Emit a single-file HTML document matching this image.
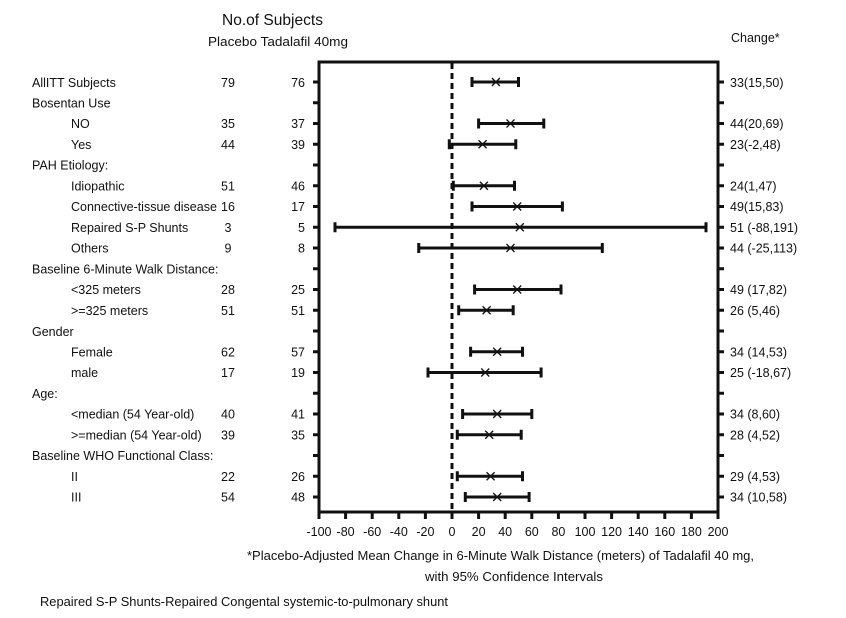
<!DOCTYPE html>
<html><head><meta charset="utf-8"><style>
html,body{margin:0;padding:0;background:#fff;}
svg{display:block;}
text{font-family:"Liberation Sans",sans-serif;font-size:12.5px;fill:#111;}
</style></head><body>
<svg width="846" height="618" viewBox="0 0 846 618" xmlns="http://www.w3.org/2000/svg">
<text x="222" y="25" style="font-size:16px" textLength="101" lengthAdjust="spacingAndGlyphs">No.of Subjects</text>
<text x="208" y="46" style="font-size:13px" textLength="140" lengthAdjust="spacingAndGlyphs">Placebo Tadalafil 40mg</text>
<text x="731" y="42">Change*</text>

<rect x="319" y="62" width="399" height="450" fill="none" stroke="#111" stroke-width="3"/>
<line x1="452" y1="63" x2="452" y2="511" stroke="#111" stroke-width="3" stroke-dasharray="6,4"/>

<g stroke="#111" stroke-width="3">
<path d="M313 82H319M313 102.75H319M313 123.5H319M313 144.25H319M313 165H319M313 185.75H319M313 206.5H319M313 227.25H319M313 248H319M313 268.75H319M313 289.5H319M313 310.25H319M313 331H319M313 351.75H319M313 372.5H319M313 393.25H319M313 414H319M313 434.75H319M313 455.5H319M313 476.25H319M313 497H319"/>
<path d="M718 82H724M718 102.75H724M718 123.5H724M718 144.25H724M718 165H724M718 185.75H724M718 206.5H724M718 227.25H724M718 248H724M718 268.75H724M718 289.5H724M718 310.25H724M718 331H724M718 351.75H724M718 372.5H724M718 393.25H724M718 414H724M718 434.75H724M718 455.5H724M718 476.25H724M718 497H724"/>
<path d="M319 512V519M345.6 512V519M372.2 512V519M398.8 512V519M425.4 512V519M452 512V519M478.6 512V519M505.2 512V519M531.8 512V519M558.4 512V519M585 512V519M611.6 512V519M638.2 512V519M664.8 512V519M691.4 512V519M718 512V519"/>
</g>

<g style="font-size:13px">
<text x="319" y="536" text-anchor="middle">-100</text>
<text x="345.6" y="536" text-anchor="middle">-80</text>
<text x="372.2" y="536" text-anchor="middle">-60</text>
<text x="398.8" y="536" text-anchor="middle">-40</text>
<text x="425.4" y="536" text-anchor="middle">-20</text>
<text x="452" y="536" text-anchor="middle">0</text>
<text x="478.6" y="536" text-anchor="middle">20</text>
<text x="505.2" y="536" text-anchor="middle">40</text>
<text x="531.8" y="536" text-anchor="middle">60</text>
<text x="558.4" y="536" text-anchor="middle">80</text>
<text x="585" y="536" text-anchor="middle">100</text>
<text x="611.6" y="536" text-anchor="middle">120</text>
<text x="638.2" y="536" text-anchor="middle">140</text>
<text x="664.8" y="536" text-anchor="middle">160</text>
<text x="691.4" y="536" text-anchor="middle">180</text>
<text x="718" y="536" text-anchor="middle">200</text>
</g>

<g stroke="#111" stroke-width="3" fill="none">
<path d="M472 82H518.5M472 77V87M518.5 77V87"/>
<path d="M478.6 123.5H543.8M478.6 118.5V128.5M543.8 118.5V128.5"/>
<path d="M449.3 144.25H515.8M449.3 139.25V149.25M515.8 139.25V149.25"/>
<path d="M453.3 185.75H514.5M453.3 180.75V190.75M514.5 180.75V190.75"/>
<path d="M472 206.5H562.4M472 201.5V211.5M562.4 201.5V211.5"/>
<path d="M335 227.25H706M335 222.25V232.25M706 222.25V232.25"/>
<path d="M418.75 248H602.3M418.75 243V253M602.3 243V253"/>
<path d="M474.6 289.5H561M474.6 284.5V294.5M561 284.5V294.5"/>
<path d="M458.7 310.25H513.2M458.7 305.25V315.25M513.2 305.25V315.25"/>
<path d="M470.6 351.75H522.5M470.6 346.75V356.75M522.5 346.75V356.75"/>
<path d="M428 372.5H541.1M428 367.5V377.5M541.1 367.5V377.5"/>
<path d="M462.6 414H531.8M462.6 409V419M531.8 409V419"/>
<path d="M457.3 434.75H521.2M457.3 429.75V439.75M521.2 429.75V439.75"/>
<path d="M457.3 476.25H522.5M457.3 471.25V481.25M522.5 471.25V481.25"/>
<path d="M465.3 497H529.1M465.3 492V502M529.1 492V502"/>
</g>
<g stroke="#111" stroke-width="1.3" fill="none">
<path d="M491.9 78l8 8M491.9 86l8-8"/>
<path d="M506.5 119.5l8 8M506.5 127.5l8-8"/>
<path d="M478.6 140.25l8 8M478.6 148.25l8-8"/>
<path d="M479.9 181.75l8 8M479.9 189.75l8-8"/>
<path d="M513.2 202.5l8 8M513.2 210.5l8-8"/>
<path d="M515.8 223.25l8 8M515.8 231.25l8-8"/>
<path d="M506.5 244l8 8M506.5 252l8-8"/>
<path d="M513.2 285.5l8 8M513.2 293.5l8-8"/>
<path d="M482.6 306.25l8 8M482.6 314.25l8-8"/>
<path d="M493.2 347.75l8 8M493.2 355.75l8-8"/>
<path d="M481.25 368.5l8 8M481.25 376.5l8-8"/>
<path d="M493.2 410l8 8M493.2 418l8-8"/>
<path d="M485.2 430.75l8 8M485.2 438.75l8-8"/>
<path d="M486.6 472.25l8 8M486.6 480.25l8-8"/>
<path d="M493.2 493l8 8M493.2 501l8-8"/>
</g>

<g>
<text x="32" y="87">AllITT Subjects</text>
<text x="32" y="107.5">Bosentan Use</text>
<text x="71" y="128">NO</text>
<text x="71" y="149">Yes</text>
<text x="32" y="169.5">PAH Etiology:</text>
<text x="71" y="190.5">Idiopathic</text>
<text x="71" y="211">Connective-tissue disease</text>
<text x="71" y="232">Repaired S-P Shunts</text>
<text x="71" y="252.5">Others</text>
<text x="32" y="273.5">Baseline 6-Minute Walk Distance:</text>
<text x="71" y="294">&lt;325 meters</text>
<text x="71" y="315">&gt;=325 meters</text>
<text x="32" y="336">Gender</text>
<text x="71" y="356.5">Female</text>
<text x="71" y="377">male</text>
<text x="32" y="398">Age:</text>
<text x="71" y="418.5">&lt;median (54 Year-old)</text>
<text x="71" y="439.5">&gt;=median (54 Year-old)</text>
<text x="32" y="460">Baseline WHO Functional Class:</text>
<text x="71" y="481">II</text>
<text x="71" y="501.5">III</text>
</g>
<g text-anchor="middle">
<text x="228" y="87">79</text><text x="228" y="128">35</text><text x="228" y="149">44</text>
<text x="228" y="190.5">51</text><text x="228" y="211">16</text><text x="228" y="232">3</text><text x="228" y="252.5">9</text>
<text x="228" y="294">28</text><text x="228" y="315">51</text>
<text x="228" y="356.5">62</text><text x="228" y="377">17</text>
<text x="228" y="418.5">40</text><text x="228" y="439.5">39</text>
<text x="228" y="481">22</text><text x="228" y="501.5">54</text>
</g>
<g text-anchor="end">
<text x="305" y="87">76</text><text x="305" y="128">37</text><text x="305" y="149">39</text>
<text x="305" y="190.5">46</text><text x="305" y="211">17</text><text x="305" y="232">5</text><text x="305" y="252.5">8</text>
<text x="305" y="294">25</text><text x="305" y="315">51</text>
<text x="305" y="356.5">57</text><text x="305" y="377">19</text>
<text x="305" y="418.5">41</text><text x="305" y="439.5">35</text>
<text x="305" y="481">26</text><text x="305" y="501.5">48</text>
</g>
<g>
<text x="730" y="87">33(15,50)</text>
<text x="730" y="128">44(20,69)</text>
<text x="730" y="149">23(-2,48)</text>
<text x="730" y="190.5">24(1,47)</text>
<text x="730" y="211">49(15,83)</text>
<text x="730" y="232">51 (-88,191)</text>
<text x="730" y="252.5">44 (-25,113)</text>
<text x="730" y="294">49 (17,82)</text>
<text x="730" y="315">26 (5,46)</text>
<text x="730" y="356.5">34 (14,53)</text>
<text x="730" y="377">25 (-18,67)</text>
<text x="730" y="418.5">34 (8,60)</text>
<text x="730" y="439.5">28 (4,52)</text>
<text x="730" y="481">29 (4,53)</text>
<text x="730" y="501.5">34 (10,58)</text>
</g>

<text x="247" y="560" textLength="507" lengthAdjust="spacingAndGlyphs">*Placebo-Adjusted Mean Change in 6-Minute Walk Distance (meters) of Tadalafil 40 mg,</text>
<text x="425" y="581" textLength="178" lengthAdjust="spacingAndGlyphs">with 95% Confidence Intervals</text>
<text x="40" y="606" textLength="408" lengthAdjust="spacingAndGlyphs">Repaired S-P Shunts-Repaired Congental systemic-to-pulmonary shunt</text>
</svg>
</body></html>
